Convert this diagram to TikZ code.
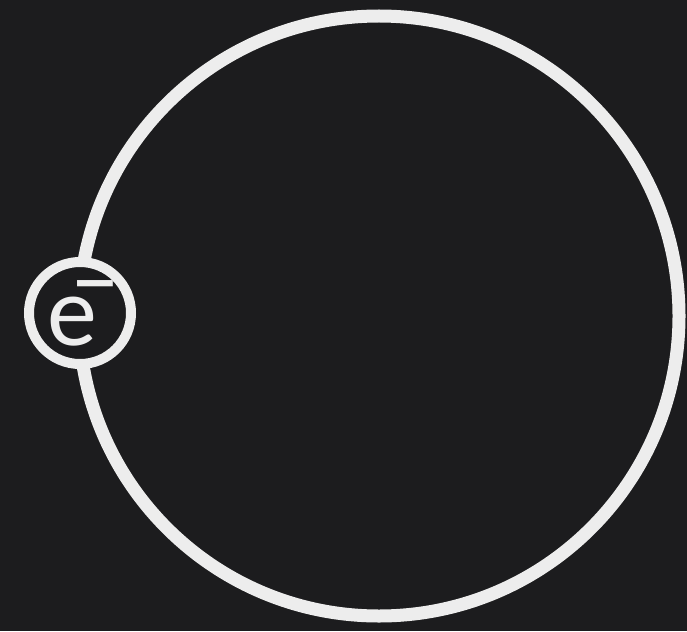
\documentclass[tikz,border=0pt]{standalone}
\usepackage{fontspec}
\setmainfont{Carlito}
\definecolor{bg}{HTML}{1C1C1E}
\definecolor{ink}{HTML}{EDEDED}
\begin{document}
\begin{tikzpicture}[x=1pt,y=-1pt,
  orbit/.style={draw=ink,line width=13pt},
  electron/.style={circle,draw=ink,fill=bg,line width=10pt,minimum size=102pt,inner sep=0pt,text=ink}]
\fill[bg] (0,0) rectangle (687,631);
\useasboundingbox (0,0) rectangle (687,631);
\node[circle,minimum size=600pt,inner sep=0pt] (orbitc) at (379,316) {};
\draw[orbit] (orbitc.center) circle[radius=300pt];
\node[electron,font=\fontsize{100}{100}\selectfont] (e) at (80,313) {\raisebox{-8pt}{e}\kern-26pt\raisebox{26pt}{\fontsize{100}{100}\selectfont –}\kern-8pt};
\end{tikzpicture}
\end{document}
